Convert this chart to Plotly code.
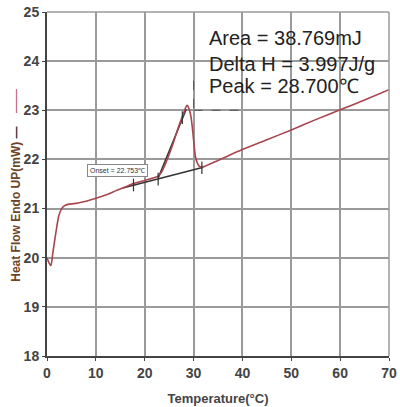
import plotly.graph_objects as go

# DSC curve (Temperature °C, Heat Flow mW)
temp = [0, 0.4, 0.8, 1.2, 1.8, 2.4, 3.0, 3.6, 4.5, 5.5, 6.6, 8, 9.7, 11, 12.7, 14, 16,
        17.7, 19.5, 21, 22.7, 23.5, 24.2, 25, 26, 26.7, 27.5, 28, 28.4, 28.7, 29.1,
        29.5, 29.8, 30.1, 30.4, 30.8, 31.2, 31.7, 35, 40, 45, 50, 55, 60, 65, 70]
heat = [20.0, 19.9, 19.84, 20.1, 20.5, 20.85, 21.0, 21.06, 21.09, 21.1, 21.12, 21.15,
        21.2, 21.24, 21.3, 21.36, 21.44, 21.51, 21.56, 21.6, 21.66, 21.75, 21.9, 22.1,
        22.38, 22.6, 22.82, 22.95, 23.06, 23.1, 23.02, 22.85, 22.6, 22.3, 22.05, 21.92,
        21.86, 21.84, 21.98, 22.2, 22.4, 22.6, 22.81, 23.01, 23.21, 23.42]

# construction lines
tangent_x = [22.75, 28.5]
tangent_y = [21.62, 23.02]
baseline_x = [15.5, 32.0]
baseline_y = [21.42, 21.84]
marker_x = [17.7, 22.75, 31.7, 27.7]
marker_y = [21.48, 21.6, 21.83, 22.85]
peak_v_x = [30, 30]
peak_v_y = [23.05, 23.65]
peak_h_x = [30, 40]
peak_h_y = [23.0, 23.0]

x_ticks = [0, 10, 20, 30, 40, 50, 60, 70]
y_ticks = [18, 19, 20, 21, 22, 23, 24, 25]

onset_text = "Onset = 22.753℃"
result_lines = ["Area = 38.769mJ", "Delta H = 3.997J/g", "Peak = 28.700℃"]
result_y = [24.48, 23.95, 23.49]

curve_color = "#a8454f"
grid_color = "#9a9a9a"

fig = go.Figure()
fig.add_trace(go.Scatter(x=tangent_x, y=tangent_y, mode="lines",
                         line=dict(color="#333333", width=1.5), hoverinfo="skip"))
fig.add_trace(go.Scatter(x=baseline_x, y=baseline_y, mode="lines",
                         line=dict(color="#333333", width=1.5), hoverinfo="skip"))
fig.add_trace(go.Scatter(x=peak_v_x, y=peak_v_y, mode="lines",
                         line=dict(color="#555555", width=1, dash="dash"), hoverinfo="skip"))
fig.add_trace(go.Scatter(x=peak_h_x, y=peak_h_y, mode="lines",
                         line=dict(color="#555555", width=1, dash="dash"), hoverinfo="skip"))
fig.add_trace(go.Scatter(x=temp, y=heat, mode="lines",
                         line=dict(color=curve_color, width=1.6, shape="spline", smoothing=0.6)))
fig.add_trace(go.Scatter(x=marker_x, y=marker_y, mode="markers",
                         marker=dict(symbol="line-ns-open", size=9, color="#333333",
                                     line=dict(color="#333333", width=1.2)),
                         hoverinfo="skip"))

fig.add_annotation(x=14.5, y=21.77, text=onset_text, showarrow=False,
                   font=dict(size=7, color="#333333", family="Liberation Sans, Arial"),
                   bgcolor="white", bordercolor="#888888", borderwidth=1, borderpad=2)
for t, yy in zip(result_lines, result_y):
    fig.add_annotation(x=32.8, y=yy, text=t, showarrow=False, xanchor="left",
                       font=dict(size=20, color="#222222", family="Liberation Sans, Arial"))

# y-axis title placed as rotated text
fig.add_annotation(xref="paper", yref="paper", x=-0.0914, y=0.497, showarrow=False,
                   textangle=-90, xanchor="center", yanchor="middle",
                   text="Heat Flow Endo UP(mW) <span style='color:#333333'>—</span>"
                        "&nbsp;&nbsp;&nbsp;&nbsp;<span style='color:" + curve_color
                        + ";font-weight:normal'>——</span>",
                   font=dict(size=12, color="#6e4426", weight="bold",
                             family="Liberation Sans, Arial"))

# top and right frame edges (grey like the grid)
fig.add_shape(type="line", xref="paper", yref="paper", x0=0, x1=1, y0=1, y1=1,
              line=dict(color=grid_color, width=1.5))
fig.add_shape(type="line", xref="paper", yref="paper", x0=1, x1=1, y0=0, y1=1,
              line=dict(color=grid_color, width=1.5))

fig.update_layout(
    width=400, height=407,
    margin=dict(l=47, r=3, t=12, b=42),
    paper_bgcolor="white", plot_bgcolor="white",
    showlegend=False,
    font=dict(family="Liberation Sans, Arial"),
)
fig.update_xaxes(range=[0, 70], tickvals=x_ticks, showgrid=True, gridcolor=grid_color,
                 gridwidth=1.5, showline=True, linecolor="#444444", linewidth=2,
                 ticks="outside", ticklen=3, tickcolor="#444444", zeroline=False,
                 ticklabeloverflow="allow",
                 tickfont=dict(size=14, color="#444444", weight="bold"),
                 title=dict(text="Temperature(°C)", standoff=14,
                            font=dict(size=13, color="#444444", weight="bold")))
fig.update_yaxes(range=[18, 25], tickvals=y_ticks, showgrid=True, gridcolor=grid_color,
                 gridwidth=1.5, showline=True, linecolor="#444444", linewidth=2,
                 ticks="outside", ticklen=3, tickcolor="#444444", zeroline=False,
                 tickfont=dict(size=14, color="#444444", weight="bold"))

fig.write_html("out.html")
